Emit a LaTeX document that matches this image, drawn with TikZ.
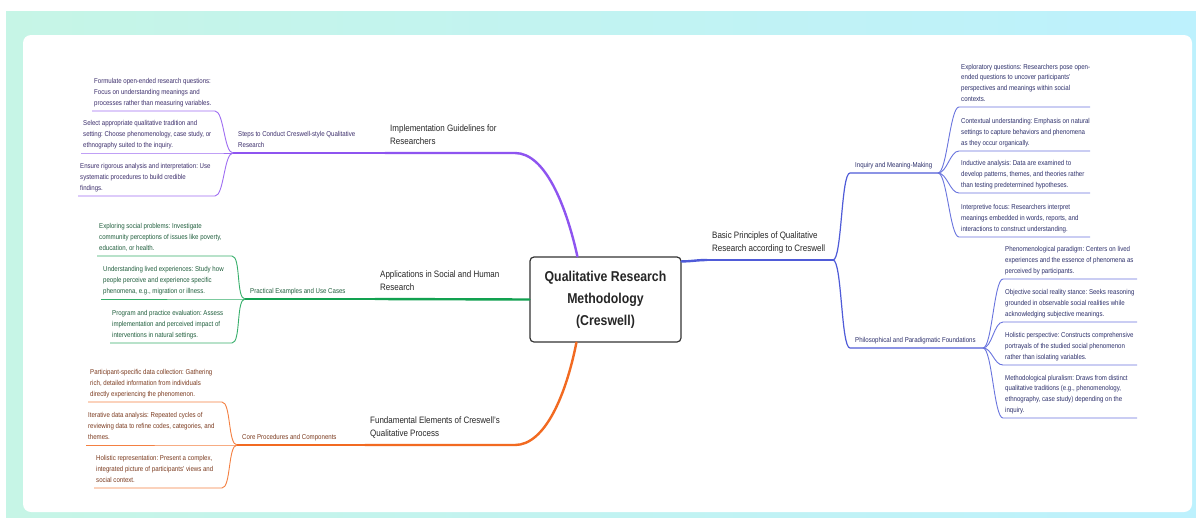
\documentclass[tikz,border=0pt]{standalone}
\usepackage{fontspec}
\setmainfont{Liberation Sans}[FakeStretch=0.86]
\usetikzlibrary{positioning,calc}
\frenchspacing

\definecolor{purpleM}{HTML}{8E54F0}
\definecolor{purpleT}{HTML}{3B2D6B}
\definecolor{greenM}{HTML}{12A150}
\definecolor{greenT}{HTML}{1F5E3C}
\definecolor{orangeM}{HTML}{F26A21}
\definecolor{orangeT}{HTML}{7B3A1E}
\definecolor{blueM}{HTML}{4F5BD8}
\definecolor{blueT}{HTML}{2C2F6B}
\definecolor{bgMint}{HTML}{C6F5E6}
\definecolor{bgCyan}{HTML}{BDF1FD}

\begin{document}
\begin{tikzpicture}[x=1pt, y=-1pt, font=\fontsize{7.1}{10.7}\selectfont,
  leaf/.style={anchor=south west, align=left, inner xsep=2pt, inner ysep=4pt, text depth=1.5pt},
  sub/.style={leaf, inner xsep=5pt},
  branch/.style={anchor=south west, align=left, inner xsep=5pt, inner ysep=6pt, text depth=2pt,
    font=\fontsize{9.3}{13}\selectfont, text=black!85},
  twig/.style={to path={.. controls +(9,0) and +(-9,0) .. (\tikztotarget)}},
  mainline/.style={line width=2.4pt, line cap=round},
  subline/.style={line width=1.2pt},
  leafline/.style={line width=0.9pt}]
\useasboundingbox (0,0) rectangle (1196,517);
% backdrop: tinted frame and white card
\fill[left color=bgMint, right color=bgCyan] (6,11) rectangle (1196,517);
\fill[white, rounded corners=8pt] (23,35) rectangle (1192,512);

\node[draw=black!80, line width=1.2pt, rounded corners=4pt, fill=white, minimum width=151pt,
  minimum height=85pt, align=center, font=\bfseries\fontsize{14.3}{22}\selectfont, text=black!85]
  (root) at (605.5,299.5) {Qualitative Research\\Methodology\\(Creswell)};

% implementation (purple)
\node[branch] (impl) at (385,153) {Implementation Guidelines for\\Researchers};
\node[sub, text=purpleT] (steps) at (233,153) {Steps to Conduct Creswell-style Qualitative\\Research};
\coordinate (pj) at (steps.south west);
\coordinate (pend) at (215,0);
\node[leaf, text=purpleT] (pl1) at (92,111) {Formulate open-ended research questions:\\Focus on understanding meanings and\\processes rather than measuring variables.};
\node[leaf, text=purpleT] (pl2) at (81,153) {Select appropriate qualitative tradition and\\setting: Choose phenomenology, case study, or\\ethnography suited to the inquiry.};
\node[leaf, text=purpleT] (pl3) at (78,196) {Ensure rigorous analysis and interpretation: Use\\systematic procedures to build credible\\findings.};
\draw[mainline, purpleM] (impl.south west) -- (515,153) .. controls (545,153) and (566,205) .. ($(root.north west)+(48,0)$);
\draw[subline, purpleM] (pj) -- (impl.south west);
\foreach \n in {pl1,pl2,pl3}
  \draw[leafline, purpleM!85] (\n.south west) -- (\n.south west -| pend) to[twig] (pj);

% applications (green)
\node[branch] (appl) at (375,299) {Applications in Social and Human\\Research};
\node[sub, text=greenT] (pract) at (245,299) {Practical Examples and Use Cases};
\coordinate (gj) at (pract.south west);
\coordinate (gend) at (232,0);
\node[leaf, text=greenT] (gl1) at (97,256) {Exploring social problems: Investigate\\community perceptions of issues like poverty,\\education, or health.};
\node[leaf, text=greenT] (gl2) at (101,299) {Understanding lived experiences: Study how\\people perceive and experience specific\\phenomena, e.g., migration or illness.};
\node[leaf, text=greenT] (gl3) at (110,343) {Program and practice evaluation: Assess\\implementation and perceived impact of\\interventions in natural settings.};
\draw[mainline, greenM] (appl.south west) -- (root.west);
\draw[subline, greenM] (gj) -- (appl.south west);
\foreach \n in {gl1,gl2,gl3}
  \draw[leafline, greenM!85] (\n.south west) -- (\n.south west -| gend) to[twig] (gj);

% fundamentals (orange)
\node[branch] (fund) at (365,445) {Fundamental Elements of Creswell's\\Qualitative Process};
\node[sub, text=orangeT] (core) at (237,445) {Core Procedures and Components};
\coordinate (oj) at (core.south west);
\coordinate (oend) at (222,0);
\node[leaf, text=orangeT] (ol1) at (88,402) {Participant-specific data collection: Gathering\\rich, detailed information from individuals\\directly experiencing the phenomenon.};
\node[leaf, text=orangeT] (ol2) at (86,445) {Iterative data analysis: Repeated cycles of\\reviewing data to refine codes, categories, and\\themes.};
\node[leaf, text=orangeT] (ol3) at (94,488) {Holistic representation: Present a complex,\\integrated picture of participants' views and\\social context.};
\draw[mainline, orangeM] (fund.south west) -- (515,445) .. controls (545,445) and (566,395) .. ($(root.south west)+(47,0)$);
\draw[subline, orangeM] (oj) -- (fund.south west);
\foreach \n in {ol1,ol2,ol3}
  \draw[leafline, orangeM!85] (\n.south west) -- (\n.south west -| oend) to[twig] (oj);

% basic principles (blue)
\node[branch] (basic) at (707,260) {Basic Principles of Qualitative\\Research according to Creswell};
\coordinate (bj) at (833,260);
\node[sub, text=blueT] (inq) at (850,173) {Inquiry and Meaning-Making};
\coordinate (ij) at (938,173);
\node[sub, text=blueT] (phil) at (850,348) {Philosophical and Paradigmatic Foundations};
\coordinate (fj) at (983,348);
\coordinate (iend) at (1090,0);
\coordinate (fend) at (1137,0);
\node[leaf, text=blueT] (il1) at (959,107) {Exploratory questions: Researchers pose open-\\ended questions to uncover participants'\\perspectives and meanings within social\\contexts.};
\node[leaf, text=blueT] (il2) at (959,151) {Contextual understanding: Emphasis on natural\\settings to capture behaviors and phenomena\\as they occur organically.};
\node[leaf, text=blueT] (il3) at (959,193) {Inductive analysis: Data are examined to\\develop patterns, themes, and theories rather\\than testing predetermined hypotheses.};
\node[leaf, text=blueT] (il4) at (959,237) {Interpretive focus: Researchers interpret\\meanings embedded in words, reports, and\\interactions to construct understanding.};
\node[leaf, text=blueT] (fl1) at (1003,279) {Phenomenological paradigm: Centers on lived\\experiences and the essence of phenomena as\\perceived by participants.};
\node[leaf, text=blueT] (fl2) at (1003,322) {Objective social reality stance: Seeks reasoning\\grounded in observable social realities while\\acknowledging subjective meanings.};
\node[leaf, text=blueT] (fl3) at (1003,365) {Holistic perspective: Constructs comprehensive\\portrayals of the studied social phenomenon\\rather than isolating variables.};
\node[leaf, text=blueT] (fl4) at (1003,418) {Methodological pluralism: Draws from distinct\\qualitative traditions (e.g., phenomenology,\\ethnography, case study) depending on the\\inquiry.};
\draw[mainline, blueM] ([yshift=-5pt]root.north east) .. controls +(10,0) and +(-10,0) .. (basic.south west);
\draw[subline, blueM] (basic.south west) -- (bj);
\draw[subline, blueM] (bj) to[twig] (inq.south west) -- (ij);
\draw[subline, blueM] (bj) to[twig] (phil.south west) -- (fj);
\foreach \n in {il1,il2,il3,il4}
  \draw[leafline, blueM!85] (ij) to[twig] (\n.south west) -- (\n.south west -| iend);
\foreach \n in {fl1,fl2,fl3,fl4}
  \draw[leafline, blueM!85] (fj) to[twig] (\n.south west) -- (\n.south west -| fend);
\end{tikzpicture}
\end{document}
